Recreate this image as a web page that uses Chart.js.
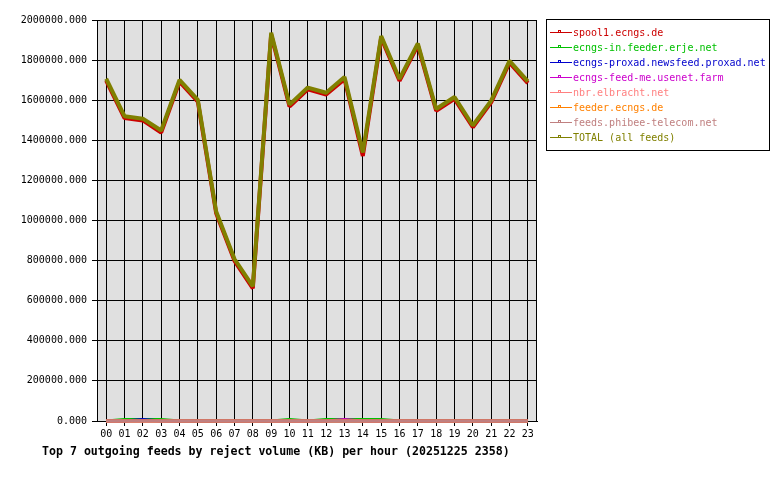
<!DOCTYPE html>
<html>
<head>
<meta charset="utf-8">
<script src="https://cdn.jsdelivr.net/npm/chart.js@4"></script>
<style>
  html, body { margin: 0; padding: 0; background: #ffffff; }
  canvas { display: block; }
</style>
</head>
<body>
<canvas id="chart" width="780" height="480"></canvas>
<script>
// данные: объём отклонённого (KB) по часам
const hours = ['00','01','02','03','04','05','06','07','08','09','10','11',
               '12','13','14','15','16','17','18','19','20','21','22','23'];

const spool1 = [1698000, 1511000, 1499000, 1438000, 1692000, 1593000, 1036000, 799000,
                662000, 1928000, 1568000, 1654000, 1628000, 1705000, 1322000, 1911000,
                1697000, 1874000, 1547000, 1607000, 1465000, 1589000, 1787000, 1685000];
const ecngsIn = [0, 8000, 8000, 8000, 0, 0, 0, 0, 0, 0, 8000, 0,
                 8000, 8000, 8000, 8000, 0, 0, 0, 0, 0, 0, 0, 0];
const proxad = [0, 0, 8000, 0, 0, 0, 0, 0, 0, 0, 0, 0,
                0, 0, 0, 0, 0, 0, 0, 0, 0, 0, 0, 0];
const feedMe = [0, 0, 0, 0, 0, 0, 0, 0, 0, 0, 0, 0,
                0, 8000, 0, 0, 0, 0, 0, 0, 0, 0, 0, 0];
const elbracht = [0, 0, 0, 0, 0, 0, 0, 0, 0, 0, 0, 0,
                  0, 0, 0, 0, 0, 0, 0, 0, 0, 0, 0, 0];
const feederEcngs = [0, 0, 0, 0, 0, 0, 0, 0, 0, 0, 0, 0,
                     0, 0, 0, 0, 0, 0, 0, 0, 0, 0, 0, 0];
const phibee = [0, 0, 0, 0, 0, 0, 0, 0, 0, 0, 0, 0,
                0, 0, 0, 0, 0, 0, 0, 0, 0, 0, 0, 0];
const total = [1707000, 1520000, 1508000, 1449000, 1701000, 1602000, 1045000, 808000,
               672000, 1937000, 1578000, 1663000, 1637000, 1716000, 1339000, 1920000,
               1706000, 1883000, 1556000, 1616000, 1474000, 1598000, 1796000, 1694000];

const yTicks = [0, 200000, 400000, 600000, 800000, 1000000, 1200000, 1400000,
                1600000, 1800000, 2000000];

const titleText = 'Top 7 outgoing feeds by reject volume (KB) per hour (20251225 2358)';

const series = [
    { label: 'spool1.ecngs.de', values: spool1, color: '#cc0000', width: 4 },
    { label: 'ecngs-in.feeder.erje.net', values: ecngsIn, color: '#00c000', width: 3 },
    { label: 'ecngs-proxad.newsfeed.proxad.net', values: proxad, color: '#0000cc', width: 3 },
    { label: 'ecngs-feed-me.usenet.farm', values: feedMe, color: '#cc00cc', width: 3 },
    { label: 'nbr.elbracht.net', values: elbracht, color: '#ff8080', width: 3 },
    { label: 'feeder.ecngs.de', values: feederEcngs, color: '#ff8000', width: 3 },
    { label: 'feeds.phibee-telecom.net', values: phibee, color: '#c08080', width: 3 },
    { label: 'TOTAL (all feeds)', values: total, color: '#808000', width: 4 }
];

const MONO = '"DejaVu Sans Mono", "Liberation Mono", monospace';

// фон, рамка, заголовок и легенда
const decorPlugin = {
    id: 'decor',
    beforeDraw(chart) {
        const c = chart.ctx, a = chart.chartArea;
        c.save();
        c.fillStyle = '#ffffff';
        c.fillRect(0, 0, chart.width, chart.height);
        c.fillStyle = '#e0e0e0';
        c.fillRect(a.left, a.top, a.right - a.left, a.bottom - a.top);
        c.restore();
    },
    beforeDatasetsDraw(chart) {
        const c = chart.ctx, a = chart.chartArea;
        c.save();
        c.strokeStyle = '#000000';
        c.lineWidth = 1;
        c.strokeRect(a.left + 0.5, a.top + 0.5, a.right - a.left - 1, a.bottom - a.top);
        c.restore();
    },
    afterDraw(chart) {
        const c = chart.ctx;
        c.save();
        // заголовок
        c.fillStyle = '#000000';
        c.font = 'bold 11.6px ' + MONO;
        c.textBaseline = 'middle';
        c.textAlign = 'left';
        c.fillText(titleText, 42, 452);

        // легенда
        c.strokeStyle = '#000000';
        c.lineWidth = 1;
        c.strokeRect(546.5, 19.5, 223, 131);
        c.font = '10px ' + MONO;
        c.textBaseline = 'alphabetic';
        chart.data.datasets.forEach(function(ds, i) {
            const y = 32.5 + i * 15;
            c.strokeStyle = ds.borderColor;
            c.beginPath();
            c.moveTo(550, y);
            c.lineTo(572, y);
            c.stroke();
            c.strokeRect(558.5, y - 2, 2, 2);
            c.fillStyle = ds.borderColor;
            c.fillText(ds.label, 573, y + 3.8);
        });
        c.restore();
    }
};

const ctx = document.getElementById('chart').getContext('2d');
const chart = new Chart(ctx, {
    type: 'line',
    data: {
        labels: hours,
        datasets: series.map(function(s, i) {
            return {
                label: s.label,
                data: s.values.map(function(v, k) { return { x: k, y: v }; }),
                borderColor: s.color,
                backgroundColor: s.color,
                borderWidth: s.width,
                borderJoinStyle: 'bevel',
                pointRadius: 0,
                tension: 0,
                fill: false,
                clip: 4,
                order: series.length - 1 - i
            };
        })
    },
    options: {
        responsive: false,
        animation: false,
        devicePixelRatio: 1,
        layout: { padding: { left: 0, right: 243, top: 20, bottom: 0 } },
        plugins: {
            legend: { display: false },
            title: { display: false },
            tooltip: { enabled: false }
        },
        scales: {
            x: {
                type: 'linear',
                min: -0.5,
                max: 23.5,
                afterBuildTicks: function(scale) {
                    scale.ticks = hours.map(function(h, i) { return { value: i }; });
                },
                afterFit: function(scale) { scale.height = 59; },
                grid: { color: '#000000', lineWidth: 1, tickLength: 5, tickColor: '#000000' },
                border: { color: '#000000', width: 1 },
                ticks: {
                    autoSkip: false,
                    maxRotation: 0,
                    padding: 2,
                    color: '#000000',
                    font: { family: MONO, size: 10 },
                    callback: function(v) { return hours[v]; }
                }
            },
            y: {
                min: 0,
                max: 2000000,
                afterBuildTicks: function(scale) {
                    scale.ticks = yTicks.map(function(v) { return { value: v }; });
                },
                afterFit: function(scale) { scale.width = 97; },
                grid: { color: '#000000', lineWidth: 1, tickLength: 5, tickColor: '#000000' },
                border: { color: '#000000', width: 1 },
                ticks: {
                    padding: 5,
                    color: '#000000',
                    font: { family: MONO, size: 10 },
                    callback: function(v) { return Number(v).toFixed(3); }
                }
            }
        }
    },
    plugins: [decorPlugin]
});
</script>
</body>
</html>
